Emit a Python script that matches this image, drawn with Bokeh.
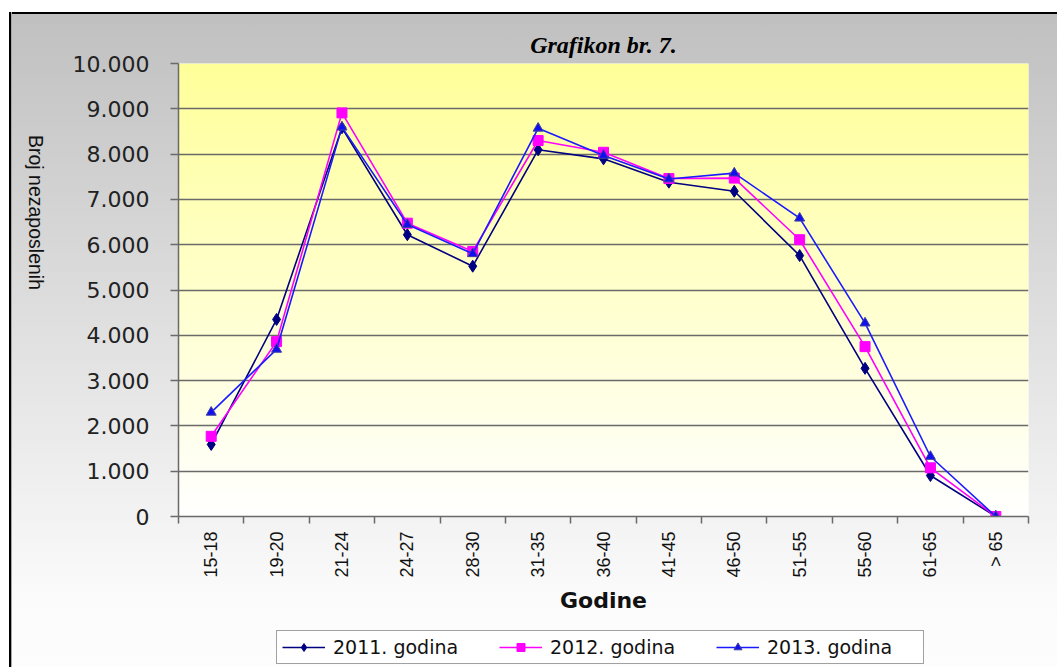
import math
from bokeh.plotting import figure
from bokeh.layouts import column
from bokeh.models import Range1d, FixedTicker, Legend, LegendItem, BoxAnnotation
from bokeh.models import Axis
from bokeh.embed import file_html
from bokeh.resources import INLINE

# ---------------- data ----------------
categories = ["15-18", "19-20", "21-24", "24-27", "28-30", "31-35", "36-40",
              "41-45", "46-50", "51-55", "55-60", "61-65", "> 65"]
y2011 = [1590, 4350, 8580, 6220, 5525, 8095, 7895, 7380, 7180, 5760, 3270, 905, 0]
y2012 = [1770, 3860, 8910, 6475, 5850, 8300, 8040, 7460, 7470, 6110, 3750, 1075, 0]
y2013 = [2300, 3690, 8595, 6445, 5800, 8570, 7970, 7450, 7580, 6585, 4270, 1325, 0]
series_names = ["2011. godina", "2012. godina", "2013. godina"]
y_ticks = [0, 1000, 2000, 3000, 4000, 5000, 6000, 7000, 8000, 9000, 10000]
y_tick_labels = ["0", "1.000", "2.000", "3.000", "4.000", "5.000", "6.000",
                 "7.000", "8.000", "9.000", "10.000"]
title_text = "Grafikon br. 7."
x_title = "Godine"
y_title = "Broj nezaposlenih"

colors = ["#000080", "#ff00ff", "#1a1aff"]
marker_fill = ["#000080", "#ff00ff", "#1010ee"]
marker_line = ["#000080", "#ff00ff", "#4040a0"]
markers = ["diamond", "square", "triangle"]
marker_sizes = [12, 10, 10]

# ---------------- main figure ----------------
n = len(categories)
x_pos = [i + 0.5 for i in range(n)]
y_max = y_ticks[-1]
series = [y2011, y2012, y2013]

p = figure(width=1057, height=624, output_backend="svg", toolbar_location=None,
           x_range=Range1d(0, n), y_range=Range1d(0, y_max),
           min_border_left=178, min_border_right=29, min_border_top=63,
           min_border_bottom=108)
p.styles = {
    "background": ("linear-gradient(to right, #ffffff 0px, #ffffff 9px, #000000 9px, "
                   "#000000 11px, #a8a8a8 11px, #a8a8a8 12px, rgba(255,255,255,0) 12px) "
                   "0px 12px / 100% 612px no-repeat, "
                   "linear-gradient(to bottom, #ffffff 0px, #ffffff 12px, #000000 12px, "
                   "#000000 14px, #c0c0c0 14px, #fbfbfb 600px, #fcfcfc 624px)"),
}
p.border_fill_color = None
p.outline_line_color = None
p.background_fill_color = "#ffffff"

# title (placed just below the top rule so it stays fully visible)
p.title.text = title_text
p.title.align = "center"
p.title.text_font = "Liberation Serif"
p.title.text_font_style = "bold italic"
p.title.text_font_size = "24px"
p.title.text_color = "#000000"
p.title.standoff = 12

# plot-area gradient (yellow at top to white at bottom)
n_bands = 60
for i in range(n_bands):
    t = (i + 0.5) / n_bands
    blue = round(255 - (255 - 153) * t)
    col = "#ffff%02x" % blue
    p.add_layout(BoxAnnotation(bottom=y_max * i / n_bands,
                               top=min(y_max, y_max * (i + 1.3) / n_bands),
                               fill_color=col, fill_alpha=1.0, line_alpha=0,
                               level="image"))

# grid
p.xgrid.visible = False
p.ygrid.ticker = FixedTicker(ticks=y_ticks)
p.ygrid.grid_line_color = "#6a6a6a"
p.ygrid.grid_line_width = 1.5

# y axis
ya = p.yaxis[0]
ya.ticker = FixedTicker(ticks=y_ticks)
ya.major_label_overrides = {t: l for t, l in zip(y_ticks, y_tick_labels)}
ya.major_label_text_font = "DejaVu Sans"
ya.major_label_text_font_size = "22px"
ya.major_label_text_color = "#222222"
ya.major_tick_out = 8
ya.major_tick_in = 0
ya.minor_tick_line_color = None
ya.major_label_standoff = 21
ya.axis_line_color = "#6a6a6a"
ya.axis_line_width = 1.5
ya.major_tick_line_color = "#6a6a6a"
ya.major_tick_line_width = 1.5
ya.axis_label = y_title
ya.axis_label_text_font = "Liberation Sans"
ya.axis_label_text_font_style = "normal"
ya.axis_label_text_font_size = "19.5px"
ya.axis_label_text_color = "#111111"
ya.axis_label_standoff = 34
if hasattr(Axis, "axis_label_orientation"):
    ya.axis_label_orientation = -math.pi / 2

# x axis
xa = p.xaxis[0]
xa.ticker = FixedTicker(ticks=x_pos, minor_ticks=list(range(n + 1)))
xa.major_label_overrides = {x: c for x, c in zip(x_pos, categories)}
xa.major_label_orientation = math.pi / 2
xa.major_label_text_font = "Liberation Sans"
xa.major_label_text_font_size = "18px"
xa.major_label_text_color = "#111111"
xa.major_tick_out = 0
xa.major_tick_in = 0
xa.major_label_standoff = 8
xa.minor_tick_out = 7
xa.minor_tick_in = 0
xa.minor_tick_line_color = "#6a6a6a"
xa.minor_tick_line_width = 1.5
xa.axis_line_color = "#6a6a6a"
xa.axis_line_width = 1.5
xa.axis_label = x_title
xa.axis_label_text_font = "DejaVu Sans"
xa.axis_label_text_font_style = "bold"
xa.axis_label_text_font_size = "22px"
xa.axis_label_text_color = "#111111"
xa.axis_label_standoff = 7

# ---------------- series ----------------
for k in range(3):
    p.line(x_pos, series[k], line_color=colors[k], line_width=1.6)
    p.scatter(x_pos, series[k], marker=markers[k], size=marker_sizes[k],
              fill_color=marker_fill[k], line_color=marker_line[k])

# ---------------- legend strip (own small figure below) ----------------
# its ranges lie outside the data, so the series themselves stay hidden here
q = figure(width=1057, height=43, output_backend="svg", toolbar_location=None,
           x_range=Range1d(-3, -2), y_range=Range1d(-3, -2),
           x_axis_location=None, y_axis_location=None,
           min_border_left=0, min_border_right=0, min_border_top=0,
           min_border_bottom=0)
q.styles = {
    "background": ("linear-gradient(to right, #ffffff 0px, #ffffff 9px, #000000 9px, "
                   "#000000 11px, #a8a8a8 11px, #a8a8a8 12px, rgba(255,255,255,0) 12px), "
                   "linear-gradient(to bottom, #fcfcfc 0px, #fdfdfd 43px)"),
}
q.grid.visible = False
q.outline_line_color = None
q.border_fill_color = None
q.background_fill_color = None
q.title.visible = False

items = []
for k in range(3):
    rl = q.line(x_pos, series[k], line_color=colors[k], line_width=1.6)
    rm = q.scatter(x_pos, series[k], marker=markers[k], size=marker_sizes[k],
                   fill_color=marker_fill[k], line_color=marker_line[k])
    items.append(LegendItem(label=series_names[k], renderers=[rl, rm]))

legend = Legend(
    items=items, location=(98, 3), orientation="horizontal",
    padding=5, spacing=15, margin=0,
    glyph_width=43, glyph_height=20, label_standoff=8, label_width=151,
    label_text_font="DejaVu Sans", label_text_font_size="19px",
    label_text_color="#111111",
    border_line_color="#444444", border_line_width=1,
    background_fill_color="#ffffff", background_fill_alpha=1.0,
)
q.add_layout(legend)

layout = column(p, q, spacing=0)
open("out.html", "w").write(file_html(layout, INLINE))
